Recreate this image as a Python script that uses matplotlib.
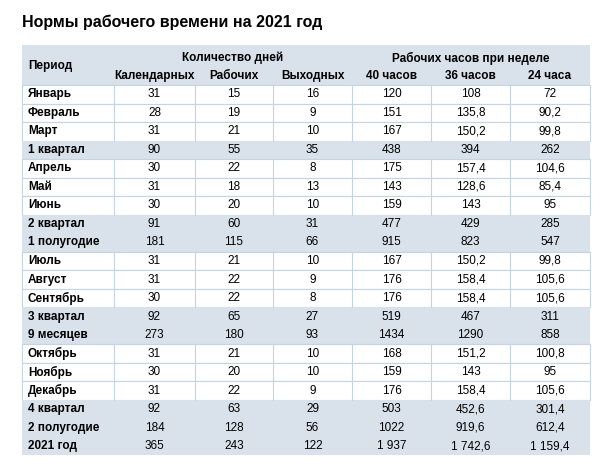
import matplotlib
matplotlib.use("Agg")
import matplotlib.pyplot as plt
from matplotlib.patches import Rectangle

title = "Нормы рабочего времени на 2021 год"
periods = ["Январь","Февраль","Март","1 квартал","Апрель","Май","Июнь","2 квартал","1 полугодие",
           "Июль","Август","Сентябрь","3 квартал","9 месяцев","Октябрь","Ноябрь","Декабрь",
           "4 квартал","2 полугодие","2021 год"]
calendar_days = ["31","28","31","90","30","31","30","91","181","31","31","30","92","273","31","30","31","92","184","365"]
work_days = ["15","19","21","55","22","18","20","60","115","21","22","22","65","180","21","20","22","63","128","243"]
off_days = ["16","9","10","35","8","13","10","31","66","10","9","8","27","93","10","10","9","29","56","122"]
hours40 = ["120","151","167","438","175","143","159","477","915","167","176","176","519","1434","168","159","176","503","1022","1 937"]
hours36 = ["108","135,8","150,2","394","157,4","128,6","143","429","823","150,2","158,4","158,4","467","1290","151,2","143","158,4","452,6","919,6","1 742,6"]
hours24 = ["72","90,2","99,8","262","104,6","85,4","95","285","547","99,8","105,6","105,6","311","858","100,8","95","105,6","301,4","612,4","1 159,4"]
summary = ["1 квартал","2 квартал","1 полугодие","3 квартал","9 месяцев","4 квартал","2 полугодие","2021 год"]
group_headers = ["Количество дней", "Рабочих часов при неделе"]
sub_headers = ["Календарных","Рабочих","Выходных","40 часов","36 часов","24 часа"]

plt.rcParams["font.family"] = "Liberation Sans"
fig = plt.figure(figsize=(6, 4.66), dpi=100)
ax = fig.add_axes([0, 0, 1, 1])
ax.set_xlim(0, 600); ax.set_ylim(466, 0); ax.axis("off")

shade = "#d9e1ea"; grid = "#c5d3e2"
xs = [22, 114, 195, 273, 352, 431, 510, 590]
htop, hbot = 45, 85
rh = (455.5 - hbot) / len(periods)

ax.text(22, 22, title, fontsize=11.5, fontweight="bold", va="center", ha="left")
ax.add_patch(Rectangle((xs[0], htop), xs[-1]-xs[0], hbot-htop, color=shade, lw=0))
ax.text(28, 66, "Период", fontsize=8.5, fontweight="bold", va="center")
ax.text((xs[1]+xs[4])/2, 58, group_headers[0], fontsize=8.5, fontweight="bold", ha="center", va="center")
ax.text((xs[4]+xs[7])/2, 58, group_headers[1], fontsize=8.5, fontweight="bold", ha="center", va="center")
for j, s in enumerate(sub_headers):
    ax.text((xs[j+1]+xs[j+2])/2, 76, s, fontsize=8.5, fontweight="bold", ha="center", va="center")

cols = [calendar_days, work_days, off_days, hours40, hours36, hours24]
for i, p in enumerate(periods):
    y0 = hbot + i*rh
    yc = y0 + rh/2
    if p in summary:
        ax.add_patch(Rectangle((xs[0], y0), xs[-1]-xs[0], rh, color=shade, lw=0))
    else:
        ax.add_patch(Rectangle((xs[0], y0), xs[-1]-xs[0], rh, facecolor="white", edgecolor=grid, lw=0.8))
        for x in xs[1:-1]:
            ax.plot([x, x], [y0, y0+rh], color=grid, lw=0.8)
    ax.text(28, yc, p, fontsize=8.5, fontweight="bold", va="center")
    for j, c in enumerate(cols):
        ax.text((xs[j+1]+xs[j+2])/2, yc, c[i], fontsize=8.5, ha="center", va="center")

fig.savefig("out.png", dpi=100)
